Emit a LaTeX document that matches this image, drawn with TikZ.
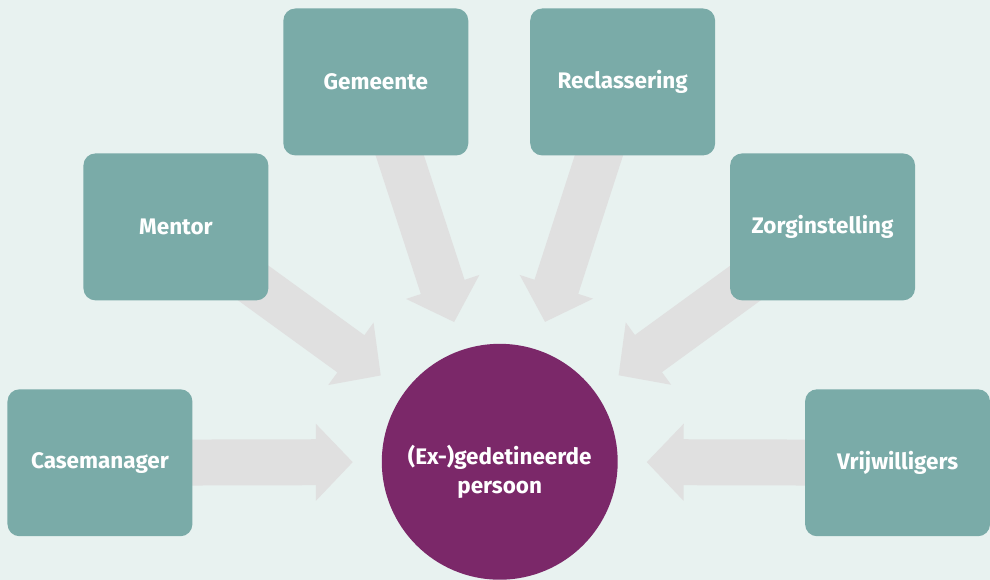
\documentclass[tikz,border=0pt]{standalone}
\usepackage{fontspec}
\setmainfont{Fira Sans}
\usetikzlibrary{arrows.meta,backgrounds,positioning}
\definecolor{canvas}{HTML}{E8F2F0}
\definecolor{teal}{HTML}{7AABA8}
\definecolor{plum}{HTML}{7B2869}
\definecolor{arrowgray}{HTML}{E0E0E0}
\pgfdeclarelayer{canvas}
\pgfsetlayers{canvas,background,main}

\begin{document}
\begin{tikzpicture}[x=1pt,y=-1pt,
    bigarrow/.style={draw=arrowgray, line width=46pt,
      -{Triangle[length=37pt,width=75pt]}, shorten >=147pt}]
      \begin{scope}[every node/.style={rectangle,rounded corners=12pt,fill=teal,
          text=white,font=\bfseries\fontsize{22.5}{27}\selectfont,
          minimum width=185pt,minimum height=147pt,inner sep=0pt}]
        \node (casemanager) at (100,463) {Casemanager};
        \node (mentor) at (176,227) {Mentor};
        \node (gemeente) at (376,82) {Gemeente};
        \node (reclassering) at (623,82) {Reclassering};
        \node (zorg) at (823,227) {Zorginstelling};
        \node (vrijwilligers) at (898,463) {Vrijwilligers};
      \end{scope}
      \node[circle,fill=plum,minimum size=236pt,
        label={[text=white,align=center,yshift=-10pt,
          font=\bfseries\fontsize{22.5}{29}\selectfont]center:(Ex-)gedetineerde\\persoon}]
        (persoon) at (500,462) {};
      \begin{scope}[on background layer]
        \path (casemanager.center) edge[bigarrow] (persoon.center);
        \path (mentor.center) edge[bigarrow] (persoon.center);
        \path (gemeente.center) edge[bigarrow] (persoon.center);
        \path (reclassering.center) edge[bigarrow] (persoon.center);
        \path (zorg.center) edge[bigarrow] (persoon.center);
        \path (vrijwilligers.center) edge[bigarrow] (persoon.center);
      \end{scope}
      \begin{pgfonlayer}{canvas}
        \fill[canvas] (0,0) rectangle (990,580);
      \end{pgfonlayer}
      \useasboundingbox (0,0) rectangle (990,580);
    \end{tikzpicture}
\end{document}
